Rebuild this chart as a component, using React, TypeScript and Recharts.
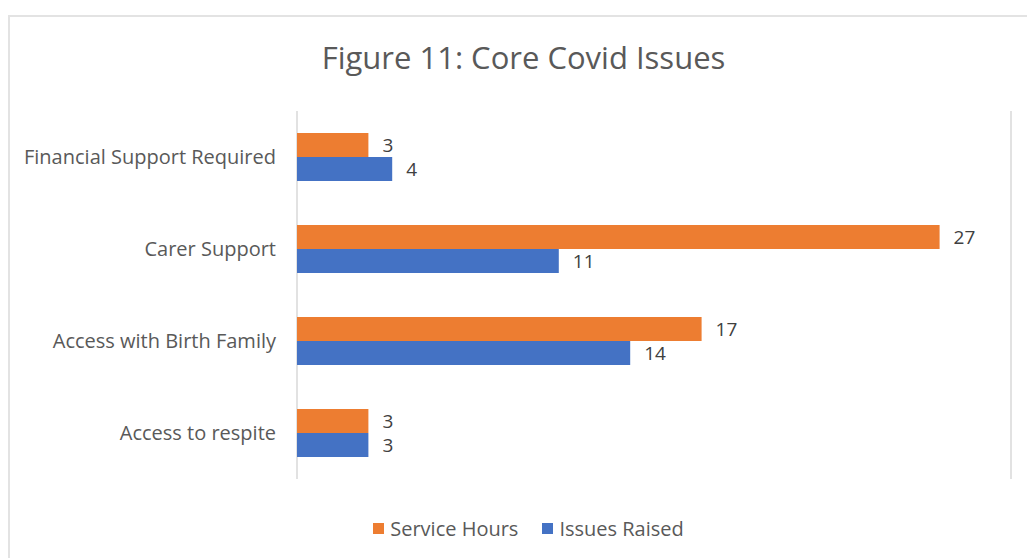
import React from "react";
import { BarChart, Bar, XAxis, YAxis, CartesianGrid, Legend, LabelList } from "recharts";

const categories = ["Financial Support Required", "Carer Support", "Access with Birth Family", "Access to respite"];
const serviceHours = [3, 27, 17, 3];
const issuesRaised = [4, 11, 14, 3];
const xTicks = [0, 5, 10, 15, 20, 25, 30];
const seriesNames = ["Service Hours", "Issues Raised"];
const seriesColors = ["#ED7D31", "#4472C4"];

const data = categories.map((c, i) => ({
  category: c,
  service: serviceHours[i],
  issues: issuesRaised[i],
}));

const FONT = "'Open Sans', 'Noto Sans', sans-serif";

const LegendContent = () => (
  <div style={{ display: "flex", justifyContent: "center", alignItems: "center", fontFamily: FONT, fontSize: 20, color: "#595959", height: 26, paddingLeft: 46 }}>
    {seriesNames.map((n, i) => (
      <div key={n} style={{ display: "flex", alignItems: "center", marginRight: i === 0 ? 24 : 0 }}>
        <span style={{ display: "inline-block", width: 11, height: 11, background: seriesColors[i], marginRight: 6 }} />
        <span>{n}</span>
      </div>
    ))}
  </div>
);

export default function App() {
  return (
    <div style={{ position: "absolute", left: 0, top: 0, width: 1027, height: 558, background: "#fff", overflow: "hidden" }}>
      <div style={{ position: "absolute", left: 8, top: 15, width: 1040, height: 600, border: "2px solid #e3e3e3", boxSizing: "border-box" }} />
      <div style={{ position: "absolute", left: 0, top: 35, width: 1047, textAlign: "center", fontFamily: FONT, fontSize: 31, color: "#595959", lineHeight: "44px" }}>
        Figure 11: Core Covid Issues
      </div>
      <div style={{ position: "absolute", left: 0, top: 0 }}>
        <BarChart
          width={1027}
          height={558}
          data={data}
          layout="vertical"
          margin={{ top: 111, right: 16, bottom: 17, left: 0 }}
          barGap={0}
          barSize={24}
        >
          <CartesianGrid horizontal={false} stroke="#d9d9d9" strokeWidth={1.5} />
          <XAxis type="number" domain={[0, 30]} ticks={xTicks} tick={false} axisLine={false} tickLine={false} height={36} />
          <YAxis
            type="category"
            dataKey="category"
            width={297}
            axisLine={false}
            tickLine={false}
            tickSize={0}
            tickMargin={21}
            tick={{ fontFamily: FONT, fontSize: 20, fill: "#595959" }}
          />
          <Legend verticalAlign="bottom" content={<LegendContent />} />
          <Bar dataKey="service" name={seriesNames[0]} fill={seriesColors[0]} isAnimationActive={false}>
            <LabelList dataKey="service" position="right" offset={14} style={{ fontFamily: FONT, fontSize: 19, fill: "#404040" }} />
          </Bar>
          <Bar dataKey="issues" name={seriesNames[1]} fill={seriesColors[1]} isAnimationActive={false}>
            <LabelList dataKey="issues" position="right" offset={14} style={{ fontFamily: FONT, fontSize: 19, fill: "#404040" }} />
          </Bar>
        </BarChart>
      </div>
    </div>
  );
}
